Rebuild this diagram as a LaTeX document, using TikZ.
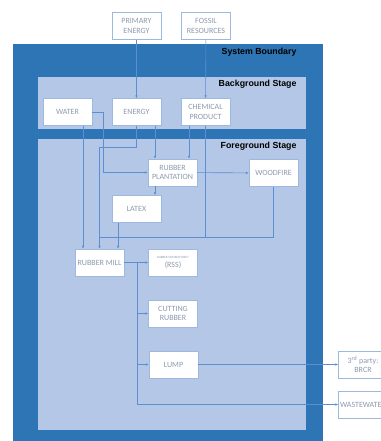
\documentclass[tikz,border=0pt]{standalone}
\usepackage{fontspec}
\setmainfont{Carlito}
\newfontfamily\headfont{Liberation Sans}
\usetikzlibrary{arrows.meta}

\definecolor{sysblue}{HTML}{2E75B6}
\definecolor{stageblue}{HTML}{B4C7E7}
\definecolor{flowblue}{HTML}{5B8FD0}
\definecolor{boxline}{HTML}{9DB9E0}
\definecolor{boxtext}{HTML}{8C9BB0}

\begin{document}
\begin{tikzpicture}[x=1pt,y=-1pt,
    box/.style={draw=boxline, fill=white, minimum width=49pt, minimum height=27pt,
      inner sep=1pt, align=center, text=boxtext, font=\fontsize{8}{9.5}\selectfont},
    stagelabel/.style={anchor=east, text=black, font=\headfont\bfseries\fontsize{8.8}{10}\selectfont},
    flow/.style={draw=flowblue, line width=0.6pt, -{Latex[length=3pt,width=2.6pt]}},
    link/.style={draw=flowblue, line width=0.6pt}]
    \useasboundingbox (0,0) rectangle (380,441);

    % Boundaries
    \fill[sysblue] (13,44) rectangle (323,445);
    \fill[stageblue] (38,77) rectangle (306,129);
    \fill[stageblue] (38,139) rectangle (306,430);
    \node[stagelabel] (syslabel) at (300,52.5) {System Boundary};
    \node[stagelabel] (bglabel) at (300,84) {Background Stage};
    \node[stagelabel] (fglabel) at (300,146) {Foreground Stage};

    % Resources
    \node[box] (primary) at (136.5,26) {PRIMARY\\ENERGY};
    \node[box] (fossil) at (206,26) {FOSSIL\\RESOURCES};

    % Background stage
    \node[box] (water) at (67.5,112) {WATER};
    \node[box] (energy) at (136.5,112) {ENERGY};
    \node[box] (chem) at (205.5,112) {CHEMICAL\\PRODUCT};

    % Foreground stage
    \node[box] (plant) at (172.5,172.5) {RUBBER\\PLANTATION};
    \node[box] (wood) at (273.5,173) {WOODFIRE};
    \node[box] (latex) at (136.5,209) {LATEX};
    \node[box] (mill) at (99.5,262.5) {RUBBER MILL};
    \node[box] (rss) at (173,262.5) {{\fontsize{3.2}{4.5}\selectfont RUBBER SMOKED SHEET}\\(RSS)};
    \node[box] (cut) at (173,313.5) {CUTTING\\RUBBER};
    \node[box] (lump) at (173.5,364.5) {LUMP};

    % Outputs
    \node[box] (brcr) at (363,364.5) {3\textsuperscript{rd} party:\\BRCR};
    \node[box] (waste) at (363,404.5) {WASTEWATER};

    % Junctions
    \coordinate (bus) at (100,237);
    \coordinate (split) at (137,263);

    % Flows into the background stage
    \draw[flow] (primary) -- (energy);
    \draw[flow] (fossil) -- (chem);

    % Flows into the rubber plantation
    \draw[flow] (water.east) -- ++(11,0) |- (plant.west);
    \draw[flow] ([xshift=-17.5pt]plant.north |- energy.south) -- ([xshift=-17.5pt]plant.north);
    \draw[flow] ([xshift=16.5pt]plant.north |- chem.south) -- ([xshift=16.5pt]plant.north);
    \draw[flow] (plant) -- (wood);
    \draw[flow] ([xshift=-17.5pt]plant.south) -- ([xshift=-17.5pt]plant.south |- latex.north);

    % Flows into the rubber mill
    \draw[flow] ([xshift=-16.5pt]mill.north |- water.south) -- ([xshift=-16.5pt]mill.north);
    \draw[flow] (energy.south) -- ++(0,22) -| (mill.north);
    \draw[flow] ([xshift=-18.5pt]latex.south) -- ([xshift=-18.5pt]latex.south |- mill.north);
    \draw[link] (wood.south) |- (bus);
    \draw[link] (chem.south) -- (chem.south |- bus);

    % Products
    \draw[flow] (mill) -- (rss);
    \draw[flow] (split) |- (cut.west);
    \draw[flow] (split) |- (lump.west);
    \draw[flow] (split) |- (waste.west);
    \draw[flow] (lump) -- (brcr);
  \end{tikzpicture}
\end{document}
